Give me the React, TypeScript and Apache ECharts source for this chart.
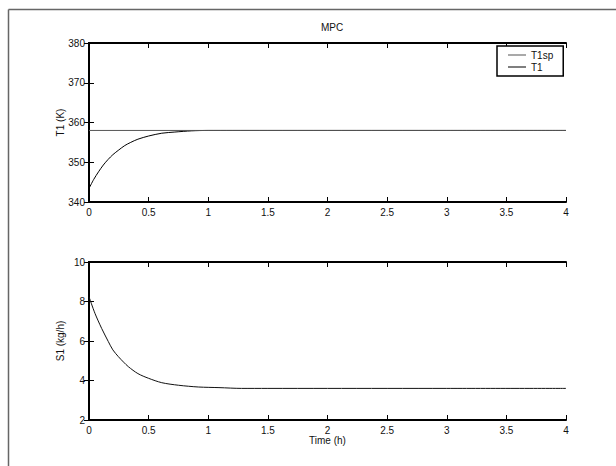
import React, { useEffect, useRef } from "react";
import * as echarts from "echarts";

const titleText = "MPC";
const xTicks = { min: 0, max: 4, interval: 0.5 };
const t1Axis = { min: 340, max: 380, interval: 10 };
const s1Axis = { min: 2, max: 10, interval: 2 };

const setpointTime = [0, 4];
const setpointValues = [358, 358];

const t1Time = [0, 0.04, 0.08, 0.12, 0.16, 0.2, 0.25, 0.3, 0.35, 0.41, 0.5, 0.61, 0.72, 0.86, 1.0, 1.2, 1.5, 2, 3, 4];
const t1Values = [343.4, 345.7, 347.6, 349.3, 350.7, 351.9, 353.1, 354.2, 355.0, 355.8, 356.6, 357.3, 357.6, 357.9, 358.0, 358.0, 358.0, 358.0, 358.0, 358.0];

const s1Time = [0, 0.05, 0.106, 0.162, 0.2, 0.246, 0.29, 0.33, 0.41, 0.5, 0.61, 0.75, 0.92, 1.09, 1.28, 1.5, 2, 3, 4];
const s1Values = [8.24, 7.4, 6.64, 5.97, 5.55, 5.21, 4.93, 4.7, 4.35, 4.11, 3.89, 3.76, 3.67, 3.64, 3.6, 3.6, 3.6, 3.6, 3.6];

const pairs = (xs: number[], ys: number[]) => xs.map((x, i) => [x, ys[i]]);

const FONT = "Liberation Sans, Arial, sans-serif";
const LINE_ICON = "path://M0,0 L0.01,0 L0,0.01 Z M0,4 L18,4 L18,5 L0,5 Z M18,9 L17.99,9 L18,8.99 Z";

export default function App() {
  const ref = useRef<HTMLDivElement>(null);
  useEffect(() => {
    if (!ref.current) return;
    const chart = echarts.init(ref.current, null, { renderer: "svg" });
    const axisLine = { show: true, lineStyle: { color: "#000", width: 2 } };
    const axisTick = { show: true, inside: true, length: 5, lineStyle: { color: "#000", width: 1 } };
    const labelStyle = { color: "#111", fontSize: 10, fontFamily: FONT };
    const xMain = (gridIndex: number, name?: string) => ({
      type: "value",
      gridIndex,
      position: "bottom",
      ...xTicks,
      axisLine,
      axisTick,
      splitLine: { show: false },
      axisLabel: { ...labelStyle, margin: 5 },
      name,
      nameLocation: "middle",
      nameGap: 12,
      nameTextStyle: { ...labelStyle },
    });
    const xTop = (gridIndex: number) => ({
      type: "value",
      gridIndex,
      position: "top",
      ...xTicks,
      axisLine,
      axisTick,
      splitLine: { show: false },
      axisLabel: { show: false },
    });
    const yMain = (gridIndex: number, r: any, name: string) => ({
      type: "value",
      gridIndex,
      position: "left",
      ...r,
      axisLine,
      axisTick,
      splitLine: { show: false },
      axisLabel: { ...labelStyle, margin: 4 },
      name,
      nameLocation: "middle",
      nameRotate: 90,
      nameGap: 24,
      nameMoveOverlap: false,
      nameTextStyle: { ...labelStyle },
    });
    const yRight = (gridIndex: number, r: any) => ({
      type: "value",
      gridIndex,
      position: "right",
      ...r,
      axisLine,
      axisTick,
      splitLine: { show: false },
      axisLabel: { show: false },
    });
    chart.setOption({
      animation: false,
      backgroundColor: "#fff",
      title: {
        text: titleText,
        left: 327,
        top: 17,
        textAlign: "center",
        textStyle: { fontSize: 10, fontWeight: "normal", color: "#111", fontFamily: FONT },
      },
      legend: {
        orient: "vertical",
        left: 497,
        top: 46,
        padding: [4, 10, 4, 11],
        itemGap: 2,
        itemWidth: 18,
        itemHeight: 9,
        borderColor: "#000",
        borderWidth: 1.5,
        borderRadius: 0,
        backgroundColor: "#fff",
        textStyle: { fontSize: 10, color: "#111", fontFamily: FONT },
        data: [
          { name: "T1sp", icon: LINE_ICON },
          { name: "T1", icon: LINE_ICON },
        ],
      },
      grid: [
        { left: 89, top: 43, width: 477, height: 159 },
        { left: 89, top: 262, width: 477, height: 158 },
      ],
      xAxis: [xMain(0), xTop(0), xMain(1, "Time (h)"), xTop(1)],
      yAxis: [yMain(0, t1Axis, "T1 (K)"), yRight(0, t1Axis), yMain(1, s1Axis, "S1 (kg/h)"), yRight(1, s1Axis)],
      graphic: [
        { type: "line", shape: { x1: 8.5, y1: 9.5, x2: 620, y2: 9.5 }, style: { stroke: "#666", lineWidth: 1.5 } },
        { type: "line", shape: { x1: 8.5, y1: 9.5, x2: 8.5, y2: 470 }, style: { stroke: "#666", lineWidth: 1.5 } },
      ],
      series: [
        {
          name: "T1sp",
          type: "line",
          xAxisIndex: 0,
          yAxisIndex: 0,
          data: pairs(setpointTime, setpointValues),
          symbol: "none",
          lineStyle: { color: "#555", width: 1 },
          itemStyle: { color: "#555" },
          z: 3,
        },
        {
          name: "T1",
          type: "line",
          xAxisIndex: 0,
          yAxisIndex: 0,
          data: pairs(t1Time, t1Values),
          symbol: "none",
          smooth: 0.3,
          lineStyle: { color: "#000", width: 1 },
          itemStyle: { color: "#000" },
          z: 2,
        },
        {
          name: "S1",
          type: "line",
          xAxisIndex: 2,
          yAxisIndex: 2,
          data: pairs(s1Time, s1Values),
          symbol: "none",
          smooth: 0.3,
          lineStyle: { color: "#111", width: 1 },
          itemStyle: { color: "#111" },
        },
      ],
    });
    return () => chart.dispose();
  }, []);
  return (
    <div
      ref={ref}
      style={{ position: "fixed", left: 0, top: 0, width: 616, height: 466, background: "#fff" }}
    />
  );
}
